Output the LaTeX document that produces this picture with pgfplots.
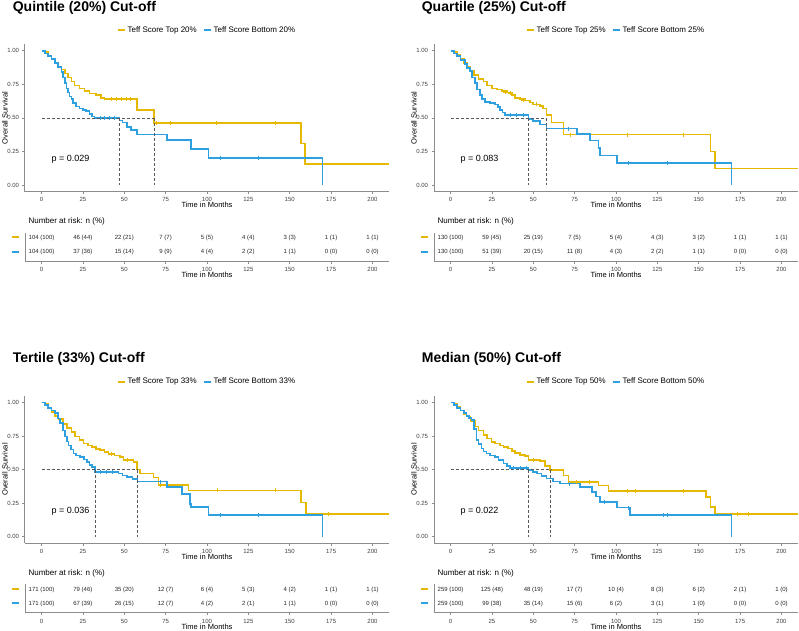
\documentclass[border=0pt]{standalone}
\usepackage{fontspec}
\setmainfont{Liberation Sans}
\usepackage{pgfplots}
\usepackage{pgfplotstable}
\pgfplotsset{compat=1.18}

\definecolor{ygold}{HTML}{E7B800}
\definecolor{kmblue}{HTML}{2E9FDF}
\definecolor{axgray}{HTML}{8C8C8C}

% numbers at risk, one table per panel (y=2 top group, y=1 bottom group)
\pgfplotstableread[col sep=comma]{
x,y,lab
0,2,104 (100)
25,2,46 (44)
50,2,22 (21)
75,2,7 (7)
100,2,5 (5)
125,2,4 (4)
150,2,3 (3)
175,2,1 (1)
200,2,1 (1)
0,1,104 (100)
25,1,37 (36)
50,1,15 (14)
75,1,9 (9)
100,1,4 (4)
125,1,2 (2)
150,1,1 (1)
175,1,0 (0)
200,1,0 (0)
}\riskA
\pgfplotstableread[col sep=comma]{
x,y,lab
0,2,130 (100)
25,2,59 (45)
50,2,25 (19)
75,2,7 (5)
100,2,5 (4)
125,2,4 (3)
150,2,3 (2)
175,2,1 (1)
200,2,1 (1)
0,1,130 (100)
25,1,51 (39)
50,1,20 (15)
75,1,11 (8)
100,1,4 (3)
125,1,2 (2)
150,1,1 (1)
175,1,0 (0)
200,1,0 (0)
}\riskB
\pgfplotstableread[col sep=comma]{
x,y,lab
0,2,171 (100)
25,2,79 (46)
50,2,35 (20)
75,2,12 (7)
100,2,6 (4)
125,2,5 (3)
150,2,4 (2)
175,2,1 (1)
200,2,1 (1)
0,1,171 (100)
25,1,67 (39)
50,1,26 (15)
75,1,12 (7)
100,1,4 (2)
125,1,2 (1)
150,1,1 (1)
175,1,0 (0)
200,1,0 (0)
}\riskC
\pgfplotstableread[col sep=comma]{
x,y,lab
0,2,259 (100)
25,2,125 (48)
50,2,48 (19)
75,2,17 (7)
100,2,10 (4)
125,2,8 (3)
150,2,6 (2)
175,2,2 (1)
200,2,1 (0)
0,1,259 (100)
25,1,99 (38)
50,1,35 (14)
75,1,15 (6)
100,1,6 (2)
125,1,3 (1)
150,1,1 (0)
175,1,0 (0)
200,1,0 (0)
}\riskD

\pgfplotsset{
  base/.style={
    scale only axis, width=364pt,
    xmin=-10, xmax=210,
    axis x line*=bottom, axis y line*=left,
    axis line style={axgray, line width=1pt},
    xtick={0,25,...,200},
    tick align=outside, major tick length=2.5pt,
    tick style={axgray, line width=0.6pt},
    tick label style={font=\fontsize{6}{7}\selectfont, text=black!75},
    /pgf/number format/assume math mode=true,
    xlabel={Time in Months},
    xlabel style={font=\fontsize{7.5}{9}\selectfont, at={(0.5,0)}, anchor=center, yshift=-13.5pt},
    clip=false,
  },
  km/.style={base, height=147.7pt, ymin=-0.05, ymax=1.05,
    ytick={0,0.25,0.5,0.75,1},
    yticklabel style={/pgf/number format/fixed, /pgf/number format/fixed zerofill, /pgf/number format/precision=2},
    ylabel={Overall Survival},
    ylabel style={font=\fontsize{7.5}{9}\selectfont, at={(0,0.5)}, anchor=center, yshift=20pt},
    legend style={at={(0.5,1.095)}, anchor=center, draw=none, fill=none, legend columns=2,
      font=\fontsize{8}{9}\selectfont, inner sep=0pt,
      /tikz/every even column/.append style={column sep=4pt}},
    legend image code/.code={\draw[#1, line width=1.8pt] (0pt,0pt) -- (7pt,0pt);},
  },
  risk/.style={base, height=28.5pt, ymin=0.4, ymax=2.35, ytick={1,2},
    yticklabels={{\textcolor{kmblue}{\rule[0.5ex]{6.5pt}{1.8pt}}},{\textcolor{ygold}{\rule[0.5ex]{6.5pt}{1.8pt}}}},
    y tick style={draw=none},
  },
  top/.style={const plot, ygold, line width=1.6pt},
  bot/.style={const plot, kmblue, line width=1.6pt},
  med/.style={densely dashed, black!65, line width=0.6pt, forget plot},
  cens/.style={only marks, mark=+, mark size=2pt, line width=0.8pt, forget plot},
  tab/.style={draw=none, nodes near coords, point meta=explicit symbolic,
    nodes near coords style={anchor=center, font=\fontsize{6}{7}\selectfont, text=black!85}, forget plot},
}

\begin{document}
\begin{tikzpicture}
\path[use as bounding box] (0pt,0pt) rectangle (799pt,-630pt);

\tikzset{ttl/.style={anchor=base west, font=\bfseries\fontsize{14}{16}\selectfont},
         nar/.style={anchor=base west, font=\fontsize{8}{9}\selectfont}}
\node[ttl] at (9.3pt,-11pt) {Quintile (20\%) Cut-off};
\node[ttl] at (418.3pt,-11pt) {Quartile (25\%) Cut-off};
\node[ttl] at (9.3pt,-362.7pt) {Tertile (33\%) Cut-off};
\node[ttl] at (418.3pt,-362.7pt) {Median (50\%) Cut-off};
\node[nar] at (25pt,-223.5pt) {Number at risk: n (\%)};
\node[nar] at (434pt,-223.5pt) {Number at risk: n (\%)};
\node[nar] at (25pt,-575.2pt) {Number at risk: n (\%)};
\node[nar] at (434pt,-575.2pt) {Number at risk: n (\%)};

% ---------- Quintile
\begin{axis}[km, at={(25pt,-44pt)}, anchor=north west]
\addplot[top] coordinates {(0,1)(2,0.99)(4,0.96)(6,0.94)(8,0.91)(10,0.88)(12,0.86)(14,0.83)(16,0.80)(18,0.77)(20,0.74)(23,0.72)(26,0.70)(29,0.68)(33,0.67)(36,0.65)(38,0.64)(57.6,0.56)(68.1,0.46)(156.7,0.31)(159.3,0.156)(210,0.156)};
\addlegendentry{Teff Score Top 20\%}
\addplot[bot] coordinates {(0,1)(2,0.98)(4,0.96)(6,0.94)(8,0.91)(10,0.88)(12,0.84)(13,0.80)(14,0.76)(15,0.72)(16,0.69)(17,0.66)(18,0.64)(19,0.61)(21,0.585)(23,0.57)(25,0.56)(27,0.55)(29,0.53)(30.5,0.51)(32,0.50)(47,0.48)(49,0.465)(51.6,0.43)(54,0.41)(57.6,0.377)(75.7,0.337)(90.2,0.268)(100.9,0.20)(169.8,0)};
\addlegendentry{Teff Score Bottom 20\%}
\addplot[cens, ygold] coordinates {(42,0.64)(45,0.64)(48,0.64)(51,0.64)(54,0.64)(69.7,0.46)(77.7,0.46)(105.9,0.46)(141.2,0.46)};
\addplot[cens, kmblue] coordinates {(35.5,0.50)(38,0.50)(41,0.50)(44,0.50)(108,0.20)(131,0.20)};
\addplot[med] coordinates {(0,0.5)(68.1,0.5)};
\addplot[med] coordinates {(47,0.5)(47,0)};
\addplot[med] coordinates {(68.1,0.5)(68.1,0)};
\node[anchor=west, font=\fontsize{9}{10}\selectfont] at (axis cs:4,0.19) {p = 0.029};
\end{axis}
\begin{axis}[risk, at={(25pt,-232.7pt)}, anchor=north west]
\addplot[tab] table[x=x, y=y, meta=lab] {\riskA};
\end{axis}

% ---------- Quartile
\begin{axis}[km, at={(434pt,-44pt)}, anchor=north west]
\addplot[top] coordinates {(0,1)(2,0.99)(4,0.97)(6,0.94)(8,0.91)(10,0.88)(12,0.85)(14,0.82)(17,0.79)(20,0.77)(22,0.74)(25,0.72)(28,0.71)(31,0.70)(34,0.69)(37,0.67)(39,0.65)(42,0.64)(45,0.63)(48,0.615)(50,0.60)(54,0.59)(56,0.57)(58,0.52)(61,0.465)(68.2,0.375)(157,0.25)(160,0.124)(210,0.124)};
\addlegendentry{Teff Score Top 25\%}
\addplot[bot] coordinates {(0,1)(2,0.98)(4,0.96)(6,0.93)(8.7,0.90)(10,0.87)(11.7,0.85)(13,0.80)(14.7,0.76)(16,0.71)(17.8,0.67)(19,0.64)(20.8,0.62)(24,0.61)(26.8,0.60)(28.5,0.58)(29.9,0.56)(31.5,0.54)(32.9,0.52)(47,0.49)(50,0.475)(54,0.45)(58.1,0.42)(76.3,0.38)(84.4,0.33)(89.4,0.275)(90.4,0.22)(100.5,0.166)(169.7,0)};
\addlegendentry{Teff Score Bottom 25\%}
\addplot[cens, ygold] coordinates {(33,0.69)(36,0.685)(44,0.63)(52,0.60)(72.3,0.375)(106.6,0.375)(140.9,0.375)};
\addplot[cens, kmblue] coordinates {(36,0.52)(40,0.52)(44,0.52)(71.2,0.42)(107.6,0.166)(130.8,0.166)};
\addplot[med] coordinates {(0,0.5)(57.7,0.5)};
\addplot[med] coordinates {(47,0.5)(47,0)};
\addplot[med] coordinates {(57.7,0.5)(57.7,0)};
\node[anchor=west, font=\fontsize{9}{10}\selectfont] at (axis cs:4,0.19) {p = 0.083};
\end{axis}
\begin{axis}[risk, at={(434pt,-232.7pt)}, anchor=north west]
\addplot[tab] table[x=x, y=y, meta=lab] {\riskB};
\end{axis}

% ---------- Tertile
\begin{axis}[km, at={(25pt,-395.7pt)}, anchor=north west]
\addplot[top] coordinates {(0,1)(2,0.99)(4,0.96)(6,0.93)(8,0.90)(10.3,0.875)(13,0.84)(15.3,0.81)(18,0.78)(20.3,0.745)(23,0.72)(25.4,0.695)(28,0.68)(30.4,0.67)(33,0.655)(35.4,0.645)(38,0.63)(40.5,0.615)(44,0.605)(47.5,0.595)(49.5,0.57)(55.6,0.557)(57.6,0.5)(59.6,0.47)(67.7,0.44)(70.7,0.385)(88.8,0.345)(156.7,0.255)(159.7,0.17)(210,0.17)};
\addlegendentry{Teff Score Top 33\%}
\addplot[bot] coordinates {(0,1)(2,0.98)(4,0.96)(6,0.94)(8.3,0.92)(10,0.88)(11.3,0.845)(13,0.79)(14.3,0.745)(15.3,0.71)(16.3,0.68)(17.8,0.65)(19.3,0.62)(21,0.605)(23.4,0.595)(25.5,0.575)(27.4,0.557)(29,0.535)(30.4,0.52)(32.4,0.48)(46.5,0.47)(49,0.455)(51.6,0.445)(55,0.43)(58,0.41)(75.7,0.37)(84.8,0.32)(89.8,0.245)(90.2,0.22)(100.9,0.16)(169.8,0)};
\addlegendentry{Teff Score Bottom 33\%}
\addplot[cens, ygold] coordinates {(42,0.615)(52,0.57)(72,0.385)(106,0.345)(141.2,0.345)(173.4,0.17)};
\addplot[cens, kmblue] coordinates {(35.5,0.48)(39,0.48)(43,0.48)(72,0.41)(108,0.16)(131,0.16)};
\addplot[med] coordinates {(0,0.5)(57.8,0.5)};
\addplot[med] coordinates {(32.5,0.5)(32.5,0)};
\addplot[med] coordinates {(57.8,0.5)(57.8,0)};
\node[anchor=west, font=\fontsize{9}{10}\selectfont] at (axis cs:4,0.19) {p = 0.036};
\end{axis}
\begin{axis}[risk, at={(25pt,-584.4pt)}, anchor=north west]
\addplot[tab] table[x=x, y=y, meta=lab] {\riskC};
\end{axis}

% ---------- Median
\begin{axis}[km, at={(434pt,-395.7pt)}, anchor=north west]
\addplot[top] coordinates {(0,1)(2,0.99)(4,0.97)(6,0.94)(8,0.91)(9.7,0.895)(12,0.86)(14.7,0.82)(17,0.79)(19.8,0.757)(22,0.73)(24.8,0.707)(27,0.695)(29.9,0.68)(32,0.67)(34.9,0.657)(37,0.64)(39,0.625)(42,0.61)(45,0.60)(47,0.57)(54,0.565)(57,0.525)(60.1,0.495)(68.2,0.457)(71.2,0.407)(89.4,0.38)(95.5,0.34)(154.4,0.295)(157,0.22)(160,0.167)(210,0.167)};
\addlegendentry{Teff Score Top 50\%}
\addplot[bot] coordinates {(0,1)(2,0.98)(4,0.96)(6,0.94)(8,0.92)(9.7,0.90)(11,0.885)(12.7,0.87)(14,0.80)(15.7,0.72)(17,0.69)(18.8,0.657)(20,0.635)(21.8,0.62)(24,0.605)(26.8,0.595)(29,0.57)(31.9,0.545)(34,0.525)(35.9,0.512)(47,0.495)(50,0.48)(52.1,0.47)(55,0.45)(58.1,0.432)(62,0.41)(66.2,0.395)(78.3,0.37)(85.4,0.332)(88,0.30)(90.4,0.257)(100.5,0.216)(108.6,0.16)(169.7,0)};
\addlegendentry{Teff Score Bottom 50\%}
\addplot[cens, ygold] coordinates {(50,0.57)(76,0.407)(84,0.407)(106.6,0.34)(111.6,0.34)(140.5,0.34)(173.3,0.167)(180.2,0.167)};
\addplot[cens, kmblue] coordinates {(38,0.512)(42,0.512)(46,0.512)(72,0.395)(93,0.257)(107.6,0.216)(128.8,0.16)(130.8,0.16)};
\addplot[med] coordinates {(0,0.5)(60.5,0.5)};
\addplot[med] coordinates {(47,0.5)(47,0)};
\addplot[med] coordinates {(60.5,0.5)(60.5,0)};
\node[anchor=west, font=\fontsize{9}{10}\selectfont] at (axis cs:4,0.19) {p = 0.022};
\end{axis}
\begin{axis}[risk, at={(434pt,-584.4pt)}, anchor=north west]
\addplot[tab] table[x=x, y=y, meta=lab] {\riskD};
\end{axis}
\end{tikzpicture}
\end{document}
